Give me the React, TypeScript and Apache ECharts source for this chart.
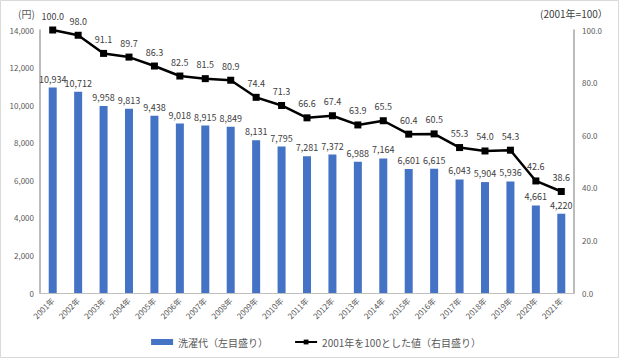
import React, { useEffect, useRef } from "react";
import * as echarts from "echarts";

const categories = ["2001年","2002年","2003年","2004年","2005年","2006年","2007年","2008年","2009年","2010年","2011年","2012年","2013年","2014年","2015年","2016年","2017年","2018年","2019年","2020年","2021年"];
const laundryCost = [10934,10712,9958,9813,9438,9018,8915,8849,8131,7795,7281,7372,6988,7164,6601,6615,6043,5904,5936,4661,4220];
const indexValues = [100.0,98.0,91.1,89.7,86.3,82.5,81.5,80.9,74.4,71.3,66.6,67.4,63.9,65.5,60.4,60.5,55.3,54.0,54.3,42.6,38.6];
const barName = "洗濯代（左目盛り）";
const lineName = "2001年を100とした値（右目盛り）";

export default function App() {
  const ref = useRef<HTMLDivElement>(null);
  useEffect(() => {
    const chart = echarts.init(ref.current!, null, { renderer: "svg" });
    const font = "'Noto Sans CJK JP', 'Noto Sans', sans-serif";
    chart.setOption({
      animation: false,
      textStyle: { fontFamily: font },
      grid: { left: 40, right: 58, top: 30, bottom: 67 },
      graphic: [
        { type: "rect", shape: { x: 0.5, y: 0.5, width: 618, height: 357 }, style: { fill: "none", stroke: "#d9d9d9", lineWidth: 1 } },
        { type: "text", left: 18, top: 8, style: { text: "(円)", fontSize: 10, fill: "#595959", fontFamily: font } },
        { type: "text", left: 540, top: 8, style: { text: "(2001年=100）", fontSize: 10, fill: "#404040", fontFamily: font } },
      ],
      legend: {
        bottom: 8,
        left: "center",
        itemGap: 26,
        itemWidth: 22,
        itemHeight: 6,
        textStyle: { fontSize: 10, color: "#595959", fontFamily: font },
        data: [
          { name: barName, icon: "rect" },
          { name: lineName },
        ],
      },
      xAxis: {
        type: "category",
        data: categories,
        axisLine: { lineStyle: { color: "#bfbfbf" } },
        axisTick: { show: false },
        axisLabel: { rotate: 45, fontSize: 8, color: "#595959", margin: 6 },
      },
      yAxis: [
        {
          type: "value", min: 0, max: 14000, interval: 2000,
          axisLine: { show: true, lineStyle: { color: "#a6a6a6", width: 1.5 } },
          splitLine: { show: false },
          axisLabel: { fontSize: 8, color: "#595959", margin: 6, formatter: (v: number) => v.toLocaleString("en-US") },
        },
        {
          type: "value", min: 0, max: 100, interval: 20,
          axisLine: { show: true, lineStyle: { color: "#a6a6a6", width: 1.5 } },
          splitLine: { show: false },
          axisLabel: { fontSize: 8, color: "#595959", margin: 8, formatter: (v: number) => v.toFixed(1) },
        },
      ],
      series: [
        {
          name: barName,
          type: "bar",
          data: laundryCost,
          barWidth: 8,
          itemStyle: { color: "#4472c4" },
          label: { show: true, position: "top", fontSize: 9, color: "#404040", distance: 4, formatter: (p: any) => p.value.toLocaleString("en-US") },
        },
        {
          name: lineName,
          type: "line",
          yAxisIndex: 1,
          data: indexValues,
          symbol: "rect",
          symbolSize: 7,
          lineStyle: { color: "#000", width: 2.5 },
          itemStyle: { color: "#000" },
          label: { show: true, position: "top", fontSize: 9, color: "#404040", distance: 6, formatter: (p: any) => p.value.toFixed(1) },
        },
      ],
    });
    return () => chart.dispose();
  }, []);
  return <div ref={ref} style={{ position: "absolute", left: 0, top: 0, width: 632, height: 360 }} />;
}
